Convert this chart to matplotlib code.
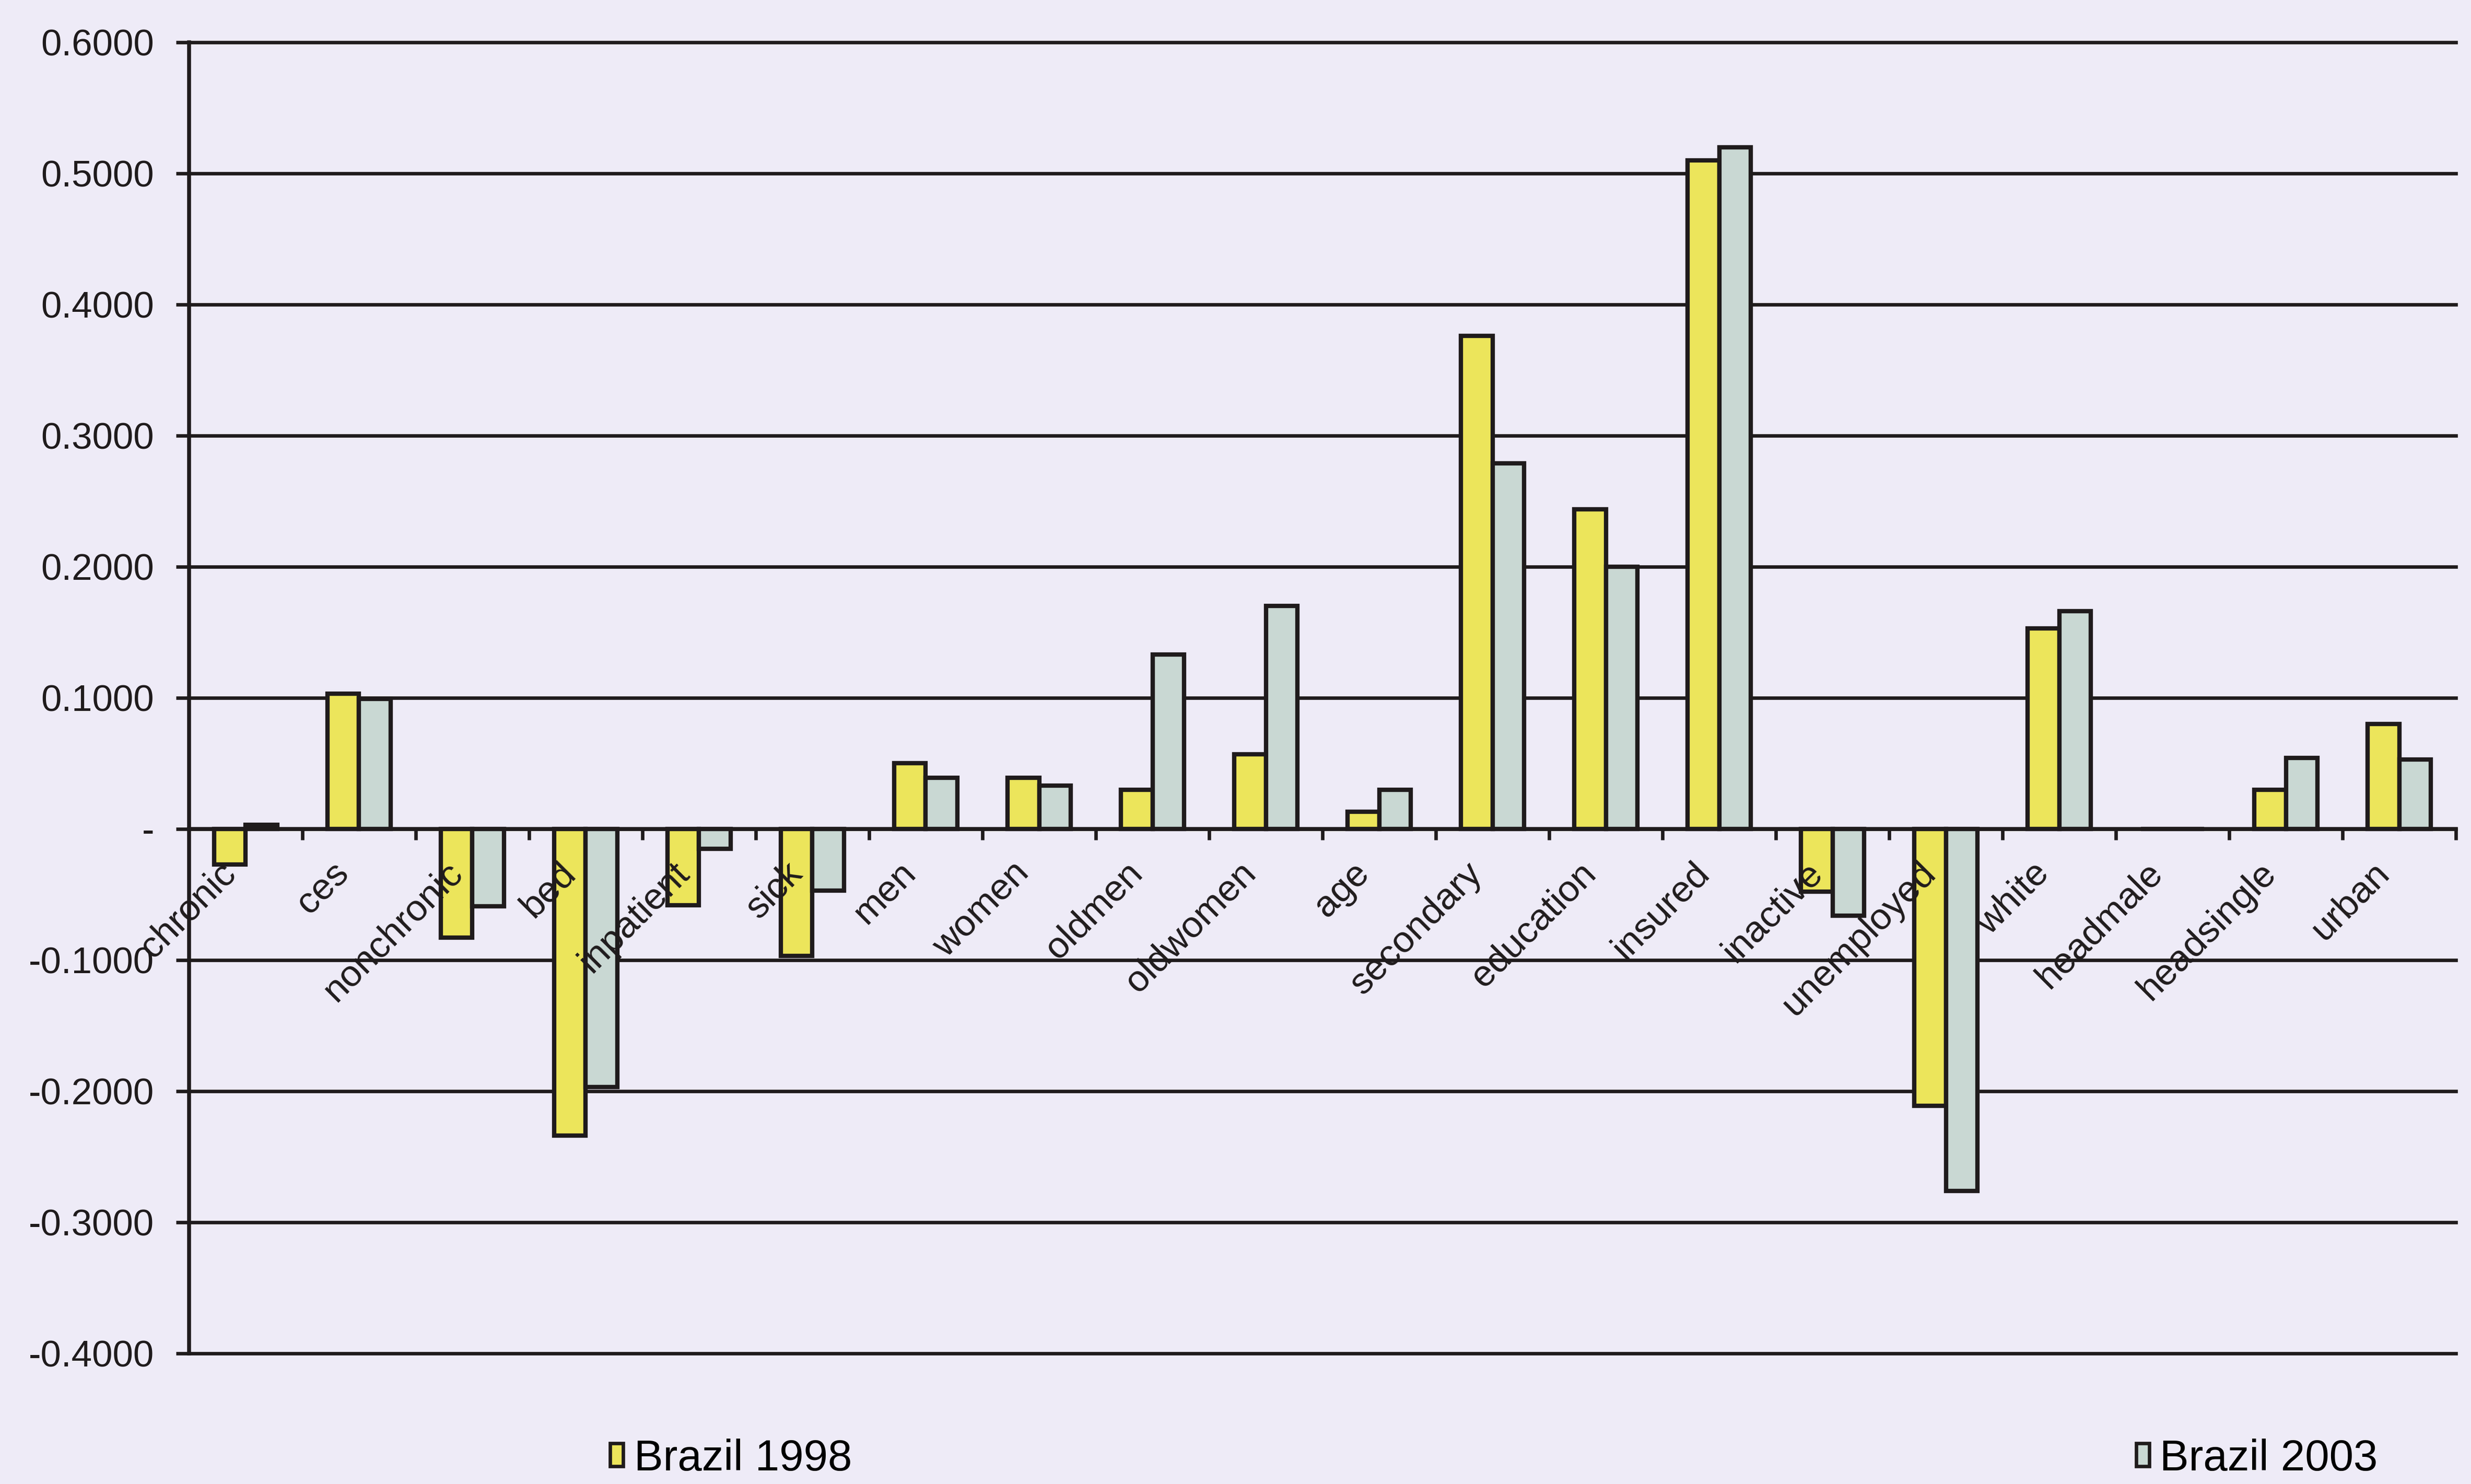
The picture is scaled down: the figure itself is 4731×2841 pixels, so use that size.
import numpy as np
import matplotlib
matplotlib.use("Agg")
import matplotlib.pyplot as plt
import matplotlib.transforms as mtransforms
from matplotlib.patches import Patch

categories = [
    "chronic", "ces", "nonchronic", "bed", "inpatient", "sick", "men", "women",
    "oldmen", "oldwomen", "age", "secondary", "education", "insured",
    "inactive", "unemployed", "white", "headmale", "headsingle", "urban",
]
brazil_1998 = [
    -0.027, 0.103, -0.083, -0.234, -0.058, -0.097, 0.050, 0.039,
    0.030, 0.057, 0.013, 0.376, 0.244, 0.510,
    -0.048, -0.211, 0.153, 0.000, 0.030, 0.080,
]
brazil_2003 = [
    0.003, 0.099, -0.059, -0.197, -0.015, -0.047, 0.039, 0.033,
    0.133, 0.170, 0.030, 0.279, 0.200, 0.520,
    -0.066, -0.276, 0.166, 0.000, 0.054, 0.053,
]
y_ticks = [-0.4, -0.3, -0.2, -0.1, 0.0, 0.1, 0.2, 0.3, 0.4, 0.5, 0.6]
y_tick_labels = ["-0.4000", "-0.3000", "-0.2000", "-0.1000", "-",
                 "0.1000", "0.2000", "0.3000", "0.4000", "0.5000", "0.6000"]
series_names = ["Brazil 1998", "Brazil 2003"]

BG = "#EEEBF7"
INK = "#1F1B1C"
YELLOW = "#ECE55B"
GREY = "#C9D8D3"
SANS = ["Liberation Sans", "DejaVu Sans"]

fig = plt.figure(figsize=(4731 / 300, 2841 / 300), dpi=300, facecolor=BG)
ax = fig.add_axes([0.0765, 0.088, 0.9174, 0.8835], facecolor=BG)

x = np.arange(len(categories))
w = 0.28
ax.bar(x - w / 2, brazil_1998, w, color=YELLOW, edgecolor=INK, linewidth=2.0, zorder=2)
ax.bar(x + w / 2, brazil_2003, w, color=GREY, edgecolor=INK, linewidth=2.0, zorder=2)

ax.set_xlim(-0.5, len(categories) - 0.5)
ax.set_ylim(-0.4, 0.6)

# horizontal grid lines at every y tick
for yv in y_ticks:
    ax.axhline(yv, color=INK, lw=1.6, zorder=1, clip_on=False)

# category axis crosses at zero, labels drawn over the bars
for side in ("top", "right"):
    ax.spines[side].set_visible(False)
ax.spines["bottom"].set_position(("data", 0))
ax.spines["bottom"].set_color(INK)
ax.spines["bottom"].set_linewidth(1.8)
ax.spines["bottom"].set_zorder(4)
ax.spines["left"].set_color(INK)
ax.spines["left"].set_linewidth(1.8)
ax.xaxis.set_zorder(5)

ax.set_yticks(y_ticks)
ax.set_yticklabels(y_tick_labels, family=SANS, fontsize=17, color=INK)
ax.tick_params(axis="y", direction="out", length=6, width=1.6, color=INK, pad=10)

ax.set_xticks(x)
ax.set_xticks(np.arange(0.5, len(categories), 1), minor=True)
ax.tick_params(axis="x", which="major", length=0, pad=18)
ax.tick_params(axis="x", which="minor", direction="out", length=5, width=1.6, color=INK)
ax.set_xticklabels(categories, rotation=45, ha="right", va="center",
                   rotation_mode="anchor", fontsize=17, color=INK, family=SANS)
shift = mtransforms.ScaledTranslation(-7 / 72, 0, fig.dpi_scale_trans)
for lbl in ax.get_xticklabels():
    lbl.set_transform(lbl.get_transform() + shift)

handles = [Patch(facecolor=YELLOW, edgecolor=INK, linewidth=1.6),
           Patch(facecolor=GREY, edgecolor=INK, linewidth=1.6)]
fig.legend(handles, series_names, loc="center", bbox_to_anchor=(0.6046, 0.017),
           ncol=2, frameon=False, columnspacing=29.5, handlelength=0.3,
           handleheight=0.45, handletextpad=0.25,
           prop={"family": SANS, "size": 20})

fig.savefig("out.png", dpi=300, facecolor=BG)
